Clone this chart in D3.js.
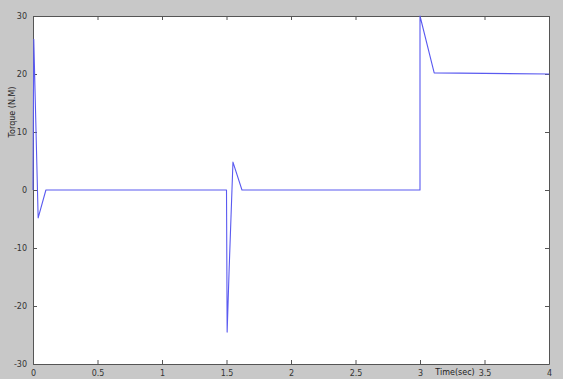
<!DOCTYPE html>
<html>
<head>
<meta charset="utf-8">
<script src="https://cdn.jsdelivr.net/npm/d3@7"></script>
<style>
  html, body { margin: 0; padding: 0; background: #c8c8c8; }
  svg { display: block; }
  text { font-family: "DejaVu Sans", Arial, sans-serif; }
</style>
</head>
<body>
<svg id="chart" width="563" height="379"></svg>
<script>
// Torque response of the drive (time in seconds, torque in N.M)
const timeSec = [0, 0.006, 0.04, 0.1, 1.5, 1.5, 1.505, 1.52, 1.55, 1.62, 3.0, 3.0, 3.11, 4.0];
const torqueNM = [0, 26, -4.8, 0, 0, 0, -24.5, -14, 4.8, 0, 0, 30, 20.2, 20];

const xTicks = [0, 0.5, 1, 1.5, 2, 2.5, 3, 3.5, 4];
const xTickLabels = ["0", "0.5", "1", "1.5", "2", "2.5", "3", "3.5", "4"];
const yTicks = [-30, -20, -10, 0, 10, 20, 30];
const yTickLabels = ["-30", "-20", "-10", "0", "10", "20", "30"];

const W = 563, H = 379;
const plot = { left: 33, right: 549, top: 16, bottom: 364 };

const svg = d3.select("#chart");
svg.append("rect").attr("width", W).attr("height", H).attr("fill", "#c8c8c8");

const x = d3.scaleLinear().domain([0, 4]).range([plot.left, plot.right]);
const y = d3.scaleLinear().domain([-30, 30]).range([plot.bottom, plot.top]);

// white axes area
svg.append("rect")
  .attr("x", plot.left).attr("y", plot.top)
  .attr("width", plot.right - plot.left).attr("height", plot.bottom - plot.top)
  .attr("fill", "#ffffff");

const tickLen = 4;
const axisColor = "#555";

// bottom axis with labels
const xAxisB = d3.axisBottom(x).tickValues(xTicks)
  .tickFormat((d, i) => xTickLabels[i]).tickSizeInner(-tickLen).tickSizeOuter(0).tickPadding(6);
const gxb = svg.append("g").attr("transform", `translate(0,${plot.bottom})`).call(xAxisB);
// top axis (ticks only)
const xAxisT = d3.axisTop(x).tickValues(xTicks).tickFormat("").tickSizeInner(-tickLen).tickSizeOuter(0);
const gxt = svg.append("g").attr("transform", `translate(0,${plot.top})`).call(xAxisT);
// left axis with labels
const yAxisL = d3.axisLeft(y).tickValues(yTicks)
  .tickFormat((d, i) => yTickLabels[i]).tickSizeInner(-tickLen).tickSizeOuter(0).tickPadding(6);
const gyl = svg.append("g").attr("transform", `translate(${plot.left},0)`).call(yAxisL);
// right axis (ticks only)
const yAxisR = d3.axisRight(y).tickValues(yTicks).tickFormat("").tickSizeInner(-tickLen).tickSizeOuter(0);
const gyr = svg.append("g").attr("transform", `translate(${plot.right},0)`).call(yAxisR);

[gxb, gxt, gyl, gyr].forEach(g => {
  g.selectAll("path.domain").attr("stroke", axisColor).attr("stroke-width", 1);
  g.selectAll(".tick line").attr("stroke", axisColor);
  g.selectAll(".tick text").attr("fill", "#333").attr("font-size", 8);
});

// torque trace
const line = d3.line().x((d, i) => x(timeSec[i])).y(d => y(d));
svg.append("path")
  .datum(torqueNM)
  .attr("d", line)
  .attr("fill", "none")
  .attr("stroke", "#5a5af0")
  .attr("stroke-width", 1.1)
  .attr("stroke-linejoin", "round");

// axis titles
svg.append("text")
  .attr("x", 455).attr("y", 375)
  .attr("text-anchor", "middle")
  .attr("font-size", 8).attr("fill", "#222")
  .text("Time(sec)");

svg.append("text")
  .attr("transform", "translate(15,112) rotate(-90)")
  .attr("text-anchor", "middle")
  .attr("font-size", 8).attr("fill", "#222")
  .text("Torque (N.M)");
</script>
</body>
</html>
